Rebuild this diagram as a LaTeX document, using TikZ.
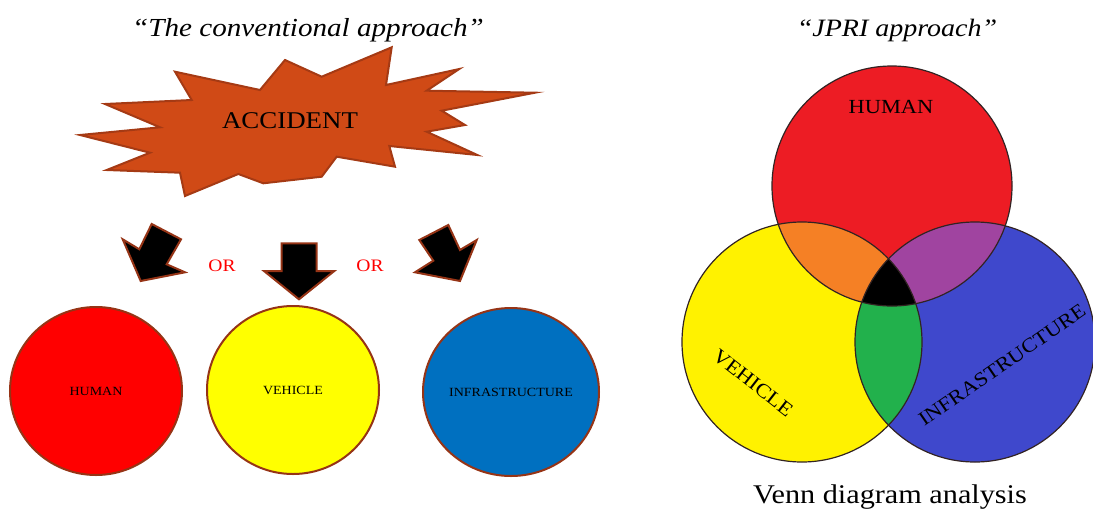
\documentclass[tikz,border=0pt]{standalone}
\usepackage{fontspec}
\setmainfont[FakeStretch=1.12]{Liberation Serif}
\usetikzlibrary{shapes.geometric}
\definecolor{burst}{RGB}{208,74,22}
\definecolor{burstline}{RGB}{165,58,20}
\definecolor{rimline}{RGB}{150,52,22}
\definecolor{lred}{RGB}{255,0,0}
\definecolor{lyellow}{RGB}{255,255,0}
\definecolor{lblue}{RGB}{0,112,192}
\definecolor{vred}{RGB}{237,28,36}
\definecolor{vyellow}{RGB}{255,242,0}
\definecolor{vblue}{RGB}{63,72,204}
\definecolor{vorange}{RGB}{245,128,37}
\definecolor{vpurple}{RGB}{160,68,160}
\definecolor{vgreen}{RGB}{34,177,76}
\definecolor{vline}{RGB}{50,35,35}
\definecolor{ortext}{RGB}{255,0,0}
\begin{document}
\begin{tikzpicture}[x=1pt,y=-1pt,
  titletext/.style={font=\fontsize{26}{30}\selectfont\itshape, inner sep=0pt},
  smallball/.style={ellipse, draw=rimline, line width=2pt, inner sep=0pt,
    minimum width=172pt, minimum height=168pt, font=\fontsize{12.5}{14}\selectfont},
  bigarrow/.style={fill=black, draw=rimline, line width=2pt, line join=miter},
  ortag/.style={text=ortext, font=\fontsize{17.5}{20}\selectfont, inner sep=0pt},
  vennlabel/.style={font=\fontsize{20}{24}\selectfont, inner sep=0pt},
  vennrim/.style={draw=vline, line width=1.2pt}]
\useasboundingbox (0,0) rectangle (1093,512);

% titles
\node[titletext] (t1) at (308,30) {“The conventional approach”};
\node[titletext, font=\fontsize{25}{30}\selectfont\itshape] (t2) at (897,30) {“JPRI approach”};

% starburst
\draw[fill=burst, draw=burstline, line width=2pt, line join=miter]
  (175,71.7) -- (260,90) -- (285,60) -- (321.7,76.7) -- (391.7,47.3) -- (386,85)
  -- (459.3,69) -- (426.7,90.7) -- (535,92.7) -- (441.7,110.7) -- (465,125)
  -- (426.7,131.7) -- (477.3,155) -- (389.3,146) -- (395,166.7) -- (336.7,156.7)
  -- (321.7,176.7) -- (263.3,183.3) -- (238.3,174) -- (185,196) -- (180,172.7)
  -- (106.7,170) -- (150,152.7) -- (80,135) -- (160,127.3) -- (105,104)
  -- (191.7,100) -- cycle;
\node[font=\fontsize{24}{28}\selectfont, inner sep=0pt] (acc) at (290,121) {ACCIDENT};

% arrows
\draw[bigarrow] (151.7,224) -- (181,239.3) -- (166.7,264.3) -- (185,272.3)
  -- (140.7,281) -- (122.7,239.3) -- (139.3,249.3) -- cycle;
\draw[bigarrow] (281.7,243.3) -- (316.7,243.3) -- (316.7,271) -- (334.3,271)
  -- (299,299.3) -- (264,271) -- (281.7,271) -- cycle;
\draw[bigarrow] (448.3,225) -- (419.3,240) -- (433.3,260.7) -- (415,272.3)
  -- (460,281) -- (476.7,240) -- (460,250) -- cycle;

\node[ortag] (or1) at (222,266) {OR};
\node[ortag] (or2) at (370,266) {OR};

% separate circles
\node[smallball, fill=lred] (hum) at (96,391) {HUMAN};
\node[smallball, fill=lyellow] (veh) at (293,390) {VEHICLE};
\node[smallball, fill=lblue, minimum width=176pt] (inf) at (511,392) {INFRASTRUCTURE};

% Venn diagram
\coordinate (cr) at (892,186);
\coordinate (cy) at (802,342);
\coordinate (cb) at (975,342);
\fill[vred] (cr) circle (120);
\fill[vyellow] (cy) circle (120);
\fill[vblue] (cb) circle (120);
\begin{scope}
  \clip (cr) circle (120);
  \fill[vorange] (cy) circle (120);
  \fill[vpurple] (cb) circle (120);
\end{scope}
\begin{scope}
  \clip (cy) circle (120);
  \fill[vgreen] (cb) circle (120);
  \clip (cb) circle (120);
  \fill[black] (cr) circle (120);
\end{scope}
\draw[vennrim] (cr) circle (120);
\draw[vennrim] (cy) circle (120);
\draw[vennrim] (cb) circle (120);

\node[vennlabel] (vh) at (891,107) {HUMAN};
\node[vennlabel, rotate=-38] (vv) at (753,383) {VEHICLE};
\node[vennlabel, rotate=34.6] (vi) at (1002,365) {INFRASTRUCTURE};

\node[font=\fontsize{27}{32}\selectfont, inner sep=0pt] (cap) at (890,497) {Venn diagram analysis};
\end{tikzpicture}
\end{document}
